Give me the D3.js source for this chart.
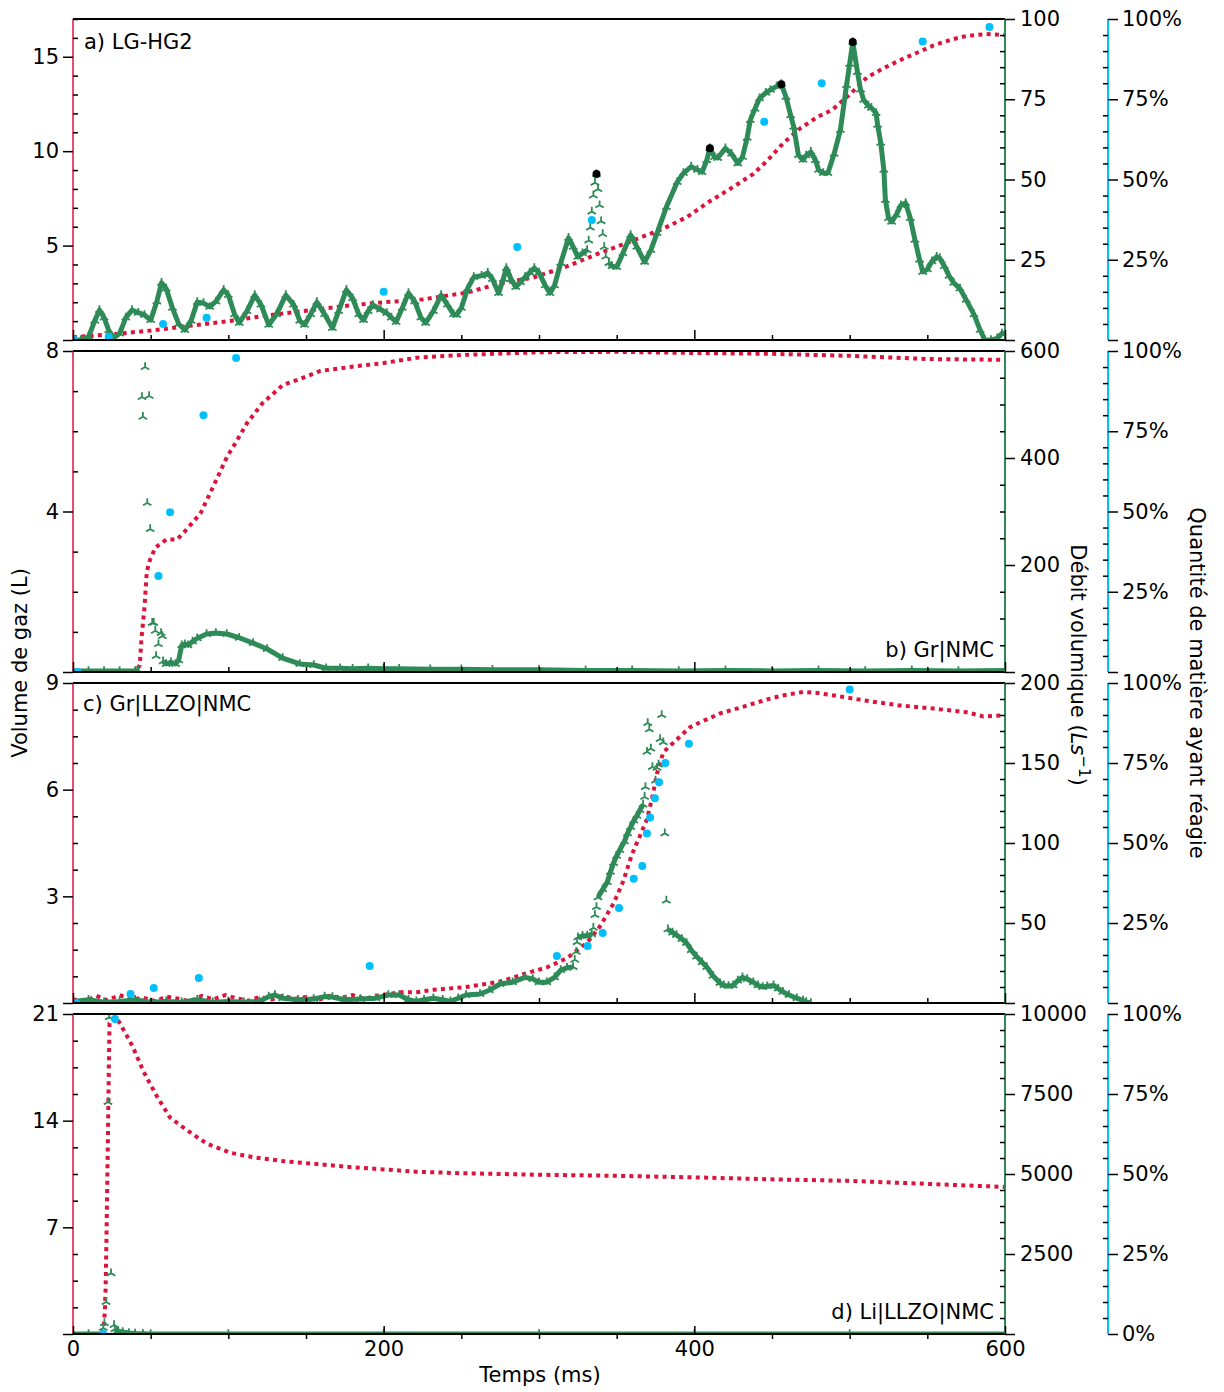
<!DOCTYPE html>
<html><head><meta charset="utf-8">
<script src="https://cdn.jsdelivr.net/npm/d3@7"></script>
<style>body{margin:0;background:#fff}</style>
</head><body>
<script>
// ---------------- DATA ----------------
const panelLabels = ["a) LG-HG2", "b) Gr|NMC", "c) Gr|LLZO|NMC", "d) Li|LLZO|NMC"];
const xTicks = [0, 200, 400, 600];
const xMinorTicks = [50, 100, 150, 250, 300, 350, 450, 500, 550];

const volMax = [17, 8, 9, 21];
const volTicks = [[0, 5, 10, 15], [0, 4, 8], [0, 3, 6, 9], [0, 7, 14, 21]];
const volMinorStep = [1, 1, 0.75, 1.75];
const flowMax = [100, 600, 200, 10000];
const flowTicks = [[0, 25, 50, 75, 100], [0, 200, 400, 600], [0, 50, 100, 150, 200], [0, 2500, 5000, 7500, 10000]];
const flowMinorStep = [5, 50, 10, 500];
const pctTicks = [0, 25, 50, 75, 100];
const pctMinorStep = 5;

// Volume de gaz (L) : [temps ms, volume]
const volA = [[0,0.15],[25,0.3],[50,0.5],[75,0.75],[100,1.0],[125,1.3],[150,1.55],[175,1.8],[200,2.0],[225,2.15],[253,2.5],[275,3.0],[296,3.3],[318,3.9],[339,4.6],[360,5.25],[380,5.9],[395,6.5],[410,7.35],[425,8.1],[438,8.8],[447,9.5],[457,10.4],[468,11.2],[479,11.8],[489,12.2],[500,13.0],[511,13.9],[522,14.4],[532,14.8],[543,15.2],[554,15.6],[565,15.9],[575,16.1],[588,16.2],[600,16.15]];
const volB = [[0,0],[40,0],[43,0.17],[44,0.8],[46,1.6],[47.5,2.5],[49.6,2.8],[53,3.1],[60,3.3],[67,3.3],[73,3.55],[82,3.95],[90,4.6],[99,5.35],[106,5.8],[112,6.2],[122,6.7],[135,7.15],[146,7.3],[159,7.5],[178,7.6],[200,7.7],[221,7.83],[250,7.9],[300,7.97],[350,7.98],[400,7.95],[450,7.93],[500,7.88],[550,7.8],[600,7.78]];
const volC = [[0,0.1],[8,0.05],[15,0.2],[22,0.08],[30,0.22],[38,0.1],[45,0.15],[53,0.05],[60,0.18],[68,0.12],[75,0.05],[83,0.2],[90,0.1],[98,0.22],[105,0.14],[113,0.06],[120,0.17],[128,0.1],[135,0.2],[143,0.12],[150,0.17],[158,0.08],[165,0.2],[173,0.15],[180,0.22],[188,0.12],[195,0.2],[203,0.25],[210,0.3],[221,0.3],[232,0.37],[253,0.45],[275,0.6],[292,0.84],[305,1.0],[318,1.26],[331,1.7],[339,2.14],[348,2.8],[354,3.4],[360,4.2],[365,4.7],[369.5,5.17],[373,5.8],[376,6.46],[380,7.05],[386,7.3],[397,7.75],[404,7.9],[417,8.15],[429,8.3],[447,8.54],[457,8.65],[470,8.75],[479,8.72],[494,8.62],[511,8.5],[532,8.37],[554,8.28],[575,8.18],[586,8.06],[600,8.09]];
const volD = [[19,0],[20,0.8],[20.5,1.5],[21,3],[21.5,6],[22,9.5],[22.5,13],[23,17],[23.5,20.4],[27,20.8],[29,20.6],[34.5,19.6],[38.7,18.8],[45.5,17.2],[54,15.6],[62.5,14.2],[73,13.4],[86,12.5],[101,11.9],[116,11.6],[135,11.35],[157,11.15],[178,10.96],[200,10.8],[221,10.65],[250,10.55],[300,10.45],[350,10.38],[400,10.28],[450,10.15],[500,10.05],[550,9.85],[600,9.65]];

// Débit volumique (L/s) : contiguous runs (null = gap) and isolated markers
const flowA = [[0,0],[5,0],[10,1],[14,6],[17,9.3],[20,7],[23,3],[26,0.6],[30,2],[34,7],[38,9.3],[42,8.5],[46,7.8],[50,6.2],[54,12],[57,17.8],[60,16],[64,10],[68,5],[72,3.1],[76,6],[80,11.8],[84,11.5],[88,10.3],[92,12],[97,15.6],[100,14],[104,8],[107,5.3],[112,9],[117,14],[121,11],[126,4.7],[131,8],[137,14],[142,11],[146,6],[149,4.7],[153,8],[157,11.8],[162,8],[167,3.7],[171,9],[176,15.6],[180,13],[184,8],[187,6.2],[190,9],[193,10.9],[198,9.5],[202,8.4],[205,7],[208,5.6],[212,10],[216,14.6],[220,12],[224,7],[227,5.3],[232,9],[237,14],[241,11],[245,8],[247,7.8],[250,10],[254,16],[258,19.6],[263,20],[267,20.9],[270,19],[274,14.6],[277,19],[279,22.4],[282,19],[285,16.5],[288,18],[291,19.6],[294,21],[297,22.4],[300,21],[304,17],[307,14.6],[310,17],[314,24],[319,31.8],[322,29],[325,25.9],[328,27],[331,28],null,[345,24],[347,23],[350,22.7],[354,27],[359,32.7],[363,29],[368,24.3],[372,28],[376,33.3],[382,41.4],[389,49.2],[393,52],[398,54],[402,53],[405,52.3],[408,56],[410,59.7],[413,57],[415,56.7],[420,59.7],[424,58],[428,55],[431,57],[434,63],[436,68.5],[439,72],[442,75.3],[446,77],[449,77.9],[453,79],[456,79.7],[459,75.7],[462,70],[464,66.4],[467,57.6],[470,56.1],[472,57.5],[475,58.6],[478,56],[480,53],[483,52],[486,52],[490,58],[494,65.4],[498,79.4],[500,86],[502,92.8],[505,83.5],[507,78],[509,74.8],[512,73],[514,72.3],[517,70.7],[518,67],[520,61.4],[522,53],[523,43.6],[525,38],[527,36.8],[530,39],[533,42],[536,42.7],[539,38],[542,31.2],[545,25],[547,21.2],[550,22],[553,24.5],[556,25.9],[558,25.5],[561,23],[564,20],[567,17.8],[571,16],[575,12.5],[580,8],[584,3.1],[587,0],[591,0],[595,0.5],[598,2],[600,2]];
const flowASparse = [[332,31],[333,35],[334,40],[335,45],[336,49],[337,51.7],[338,47],[339,42],[340,37],[341,33],[342,29],[343,26]];
const flowB = [[0,2],[10,2],[20,2],[30,2],[40,2],[42,3],null,[58,20],[60,15],[63,18],[66,15],[68,22],[70,50],[72,52],[74,50],[77,57],[80,63],[86,71],[92,73],[99,71],[107,64],[116,54],[125,43],[135,26],[146,15],[155,13],[163,7],[172,7],[180,6],[190,7],[200,6],[210,6],[230,5],[250,5],[270,4],[300,4],[330,3],[360,3],[390,2],[420,3],[450,2],[480,3],[510,2],[540,3],[570,2],[600,3]];
const flowBSparse = [[44.4,514],[45,477],[46.4,570],[47.8,316],[49,516],[49.7,267],[51,92],[52,92],[53,77],[53.5,30],[55,52],[56.7,73],[57.5,67]];
const flowC = [[0,1],[10,2],[20,0.5],[30,1],[40,2],[50,0.5],[60,1],[70,0.5],[80,2],[90,0.5],[100,1],[110,0.5],[120,1],[126,4],[130,5],[135,3],[145,2],[155,2.5],[162,4],[167,3.7],[175,2],[185,2.5],[195,3],[203,5],[210,5],[216,2],[221,1],[226,2],[232,3],[238,2],[243,1],[248,3],[253,5],[262,5.6],[268,8],[275,11.9],[283,13],[291,16],[296,15],[300,13],[305,13],[310,16],[314,20.6],[318,22],[322,22.5],null,[325,41],[328,42],[331,42],[334,43],null,[338,66],[341,71],[344,75.6],[346,82],[348,87.5],[350,92],[352,95.6],[355,101],[357,106],[359,110],[361,114],[363,117],[365,120.6],[367,124],null,[383,46],[386,44],[388.5,42.5],[392,40],[395,37.5],[398,33],[401.5,29],[405,25.5],[408,22.5],[412,17],[416.5,12.5],[419,11],[422,10.6],[425,11],[428,14],[431,16],[434,15],[438,13],[441,11],[444,10],[447,10.5],[451,11],[454,9],[457,7],[461,5],[466,3],[470,1.5],[472,0.6],[475,0]];
const flowCSparse = [[323,27],[324,32],[324.5,38],[335,47],[336,55],[337,60],[368,128.8],[368.5,135],[369.5,157],[370,175],[371,171],[372,159],[373,147.5],[375,139],[376,147],[377,149],[378,165],[379,180],[380,163],[381,106],[382,64]];
const flowD = [[0,0],[10,0],[19,0],null,[27,150],[29,100],[32,60],[36,30],[40,15],[45,5],[50,0],[100,0],[200,0],[300,0],[400,0],[500,0],[600,0]];
const flowDSparse = [[19.5,190],[20.2,340],[21.3,1000],[22.5,7250],[23.3,9900],[24.5,1900],[26.4,280]];

// Quantité de matière ayant réagie (%)
const pctA = [[1,0],[23,1],[58,5],[86,6.9],[200,15],[286,29],[334,37.4],[445,68],[482,80],[547,93],[590,97.5]];
const pctB = [[3,0],[55,29.9],[62.5,49.8],[84,80],[105,97.8]];
const pctC = [[2,0],[37,2.8],[52,4.7],[81,7.8],[191,11.6],[311.5,14.7],[331.3,17.8],[341,21.9],[351.5,29.7],[361,38.8],[366.5,42.8],[369.5,53],[371.5,58],[374.6,64],[377.3,69],[381.3,75],[396.5,81],[500,98]];
const pctD = [[19.5,0],[27,98.4]];
// Black peak markers (débit, panel a)
const peakA = [[337,51.7],[410,59.7],[456,79.7],[502,92.8]];

const volSeries = [volA, volB, volC, volD];
const flowSeries = [flowA, flowB, flowC, flowD];
const flowSparse = [flowASparse, flowBSparse, flowCSparse, flowDSparse];
const pctSeries = [pctA, pctB, pctC, pctD];
const peakSeries = [peakA, [], [], []];

// ---------------- LAYOUT ----------------
const W = 1224, H = 1392;
const X0 = 73, X1 = 1005, XB = 1108;
const tops = [19, 351, 683, 1014];
const heights = [321, 321, 320, 320];
const RED = "#DC143C", GREEN = "#2E8B57", BLUE = "#00BFFF";
const FONT = "DejaVu Sans";
const FS = 21;

const svg = d3.select("body").append("svg").attr("width", W).attr("height", H)
  .style("font-family", FONT);
const defs = svg.append("defs");
const xs = d3.scaleLinear().domain([0, 600]).range([X0, X1]);

function minors(max, step, majors) {
  const n = Math.round(max / step);
  return d3.range(0, n + 1).map(k => k * step)
    .filter(v => v <= max + 1e-9 && !majors.some(m => Math.abs(m - v) < 1e-6));
}
function styleAxis(g) {
  g.select(".domain").remove();
  g.attr("font-size", FS).attr("font-family", FONT);
  g.selectAll("line").attr("stroke", "#000").attr("stroke-width", 1.5);
  g.selectAll("text").attr("fill", "#000");
}
const triPath = "M0,0V-4.8M0,0L-4.2,2.4M0,0L4.2,2.4";

for (let i = 0; i < 4; i++) {
  const top = tops[i], bot = top + heights[i];
  const yL = d3.scaleLinear().domain([0, volMax[i]]).range([bot, top]);
  const yR = d3.scaleLinear().domain([0, flowMax[i]]).range([bot, top]);
  const yP = d3.scaleLinear().domain([0, 100]).range([bot, top]);
  const g = svg.append("g");

  defs.append("clipPath").attr("id", "clip" + i).append("rect")
    .attr("x", X0).attr("y", top).attr("width", X1 - X0).attr("height", bot - top);
  const plot = g.append("g").attr("clip-path", `url(#clip${i})`);

  // red dotted volume
  plot.append("path").datum(volSeries[i])
    .attr("d", d3.line().x(d => xs(d[0])).y(d => yL(d[1])))
    .attr("fill", "none").attr("stroke", RED).attr("stroke-width", 4)
    .attr("stroke-dasharray", "4 4.3");

  // green flow: line for dense runs + tri markers
  plot.append("path").datum(flowSeries[i])
    .attr("d", d3.line().defined(d => d !== null).x(d => xs(d[0])).y(d => yR(d[1])))
    .attr("fill", "none").attr("stroke", GREEN).attr("stroke-width", 5)
    .attr("stroke-linejoin", "round");
  const pts = flowSeries[i].filter(d => d !== null).concat(flowSparse[i]);
  plot.selectAll(".tri").data(pts).enter().append("path")
    .attr("d", triPath)
    .attr("transform", d => `translate(${xs(d[0])},${yR(d[1])})`)
    .attr("fill", "none").attr("stroke", GREEN).attr("stroke-width", 1.8);

  // blue dots
  plot.selectAll(".pct").data(pctSeries[i]).enter().append("circle")
    .attr("cx", d => xs(d[0])).attr("cy", d => yP(d[1])).attr("r", 4).attr("fill", BLUE);
  // black dots
  plot.selectAll(".pk").data(peakSeries[i]).enter().append("circle")
    .attr("cx", d => xs(d[0])).attr("cy", d => yR(d[1])).attr("r", 4).attr("fill", "#000");

  // spines
  g.append("line").attr("x1", X0).attr("x2", X1).attr("y1", top).attr("y2", top).attr("stroke", "#000").attr("stroke-width", 2);
  g.append("line").attr("x1", X0).attr("x2", X1).attr("y1", bot).attr("y2", bot).attr("stroke", "#000").attr("stroke-width", 2);
  g.append("line").attr("x1", X0).attr("x2", X0).attr("y1", top).attr("y2", bot).attr("stroke", RED).attr("stroke-width", 1.5);
  g.append("line").attr("x1", X1).attr("x2", X1).attr("y1", top).attr("y2", bot).attr("stroke", GREEN).attr("stroke-width", 2);
  g.append("line").attr("x1", XB).attr("x2", XB).attr("y1", top).attr("y2", bot).attr("stroke", BLUE).attr("stroke-width", 2);

  // left axis
  g.append("g").attr("transform", `translate(${X0},0)`)
    .call(d3.axisLeft(yL).tickValues(volTicks[i]).tickSize(10).tickPadding(4)
      .tickFormat(d => d === 0 ? "" : d)).call(styleAxis);
  g.append("g").attr("transform", `translate(${X0},0)`)
    .call(d3.axisLeft(yL).tickValues(minors(volMax[i], volMinorStep[i], volTicks[i])).tickSize(-5).tickFormat(""))
    .call(styleAxis);
  // right axis (débit)
  g.append("g").attr("transform", `translate(${X1},0)`)
    .call(d3.axisRight(yR).tickValues(flowTicks[i]).tickSize(10).tickPadding(5)
      .tickFormat(d => d === 0 ? "" : d)).call(styleAxis);
  g.append("g").attr("transform", `translate(${X1},0)`)
    .call(d3.axisRight(yR).tickValues(minors(flowMax[i], flowMinorStep[i], flowTicks[i])).tickSize(-5).tickFormat(""))
    .call(styleAxis);
  // percent axis
  g.append("g").attr("transform", `translate(${XB},0)`)
    .call(d3.axisRight(yP).tickValues(pctTicks).tickSize(10).tickPadding(4)
      .tickFormat(d => (d === 0 && i < 3) ? "" : d + "%")).call(styleAxis);
  g.append("g").attr("transform", `translate(${XB},0)`)
    .call(d3.axisRight(yP).tickValues(minors(100, pctMinorStep, pctTicks)).tickSize(-5).tickFormat(""))
    .call(styleAxis);

  // x axis
  const last = i === 3;
  g.append("g").attr("transform", `translate(0,${bot})`)
    .call(d3.axisBottom(xs).tickValues(xTicks).tickSize(last ? -8 : -10).tickPadding(7)
      .tickFormat(d => last ? d : "")).call(styleAxis);
  g.append("g").attr("transform", `translate(0,${bot})`)
    .call(d3.axisBottom(xs).tickValues(xMinorTicks).tickSize(last ? 5 : -5).tickFormat(""))
    .call(styleAxis);

  // panel label
  const lab = g.append("text").text(panelLabels[i]).attr("font-size", FS).attr("fill", "#000");
  if (i === 0) lab.attr("x", 84).attr("y", 49);
  if (i === 1) lab.attr("x", 994).attr("y", 657).attr("text-anchor", "end");
  if (i === 2) lab.attr("x", 83).attr("y", 711);
  if (i === 3) lab.attr("x", 994).attr("y", 1319).attr("text-anchor", "end");
}

// axis titles
svg.append("text").attr("transform", "translate(27,663) rotate(-90)")
  .attr("text-anchor", "middle").attr("font-size", FS).text("Volume de gaz (L)");
const deb = svg.append("text").attr("transform", "translate(1071,665) rotate(90)")
  .attr("text-anchor", "middle").attr("font-size", FS);
deb.append("tspan").text("Débit volumique (");
deb.append("tspan").attr("font-style", "italic").text("Ls");
deb.append("tspan").attr("font-size", 15).attr("dy", -8).text("−1");
deb.append("tspan").attr("dy", 8).text(")");
svg.append("text").attr("transform", "translate(1190,683) rotate(90)")
  .attr("text-anchor", "middle").attr("font-size", FS).text("Quantité de matière ayant réagie");
svg.append("text").attr("x", 540).attr("y", 1382).attr("text-anchor", "middle")
  .attr("font-size", FS).text("Temps (ms)");
</script>
</body></html>
